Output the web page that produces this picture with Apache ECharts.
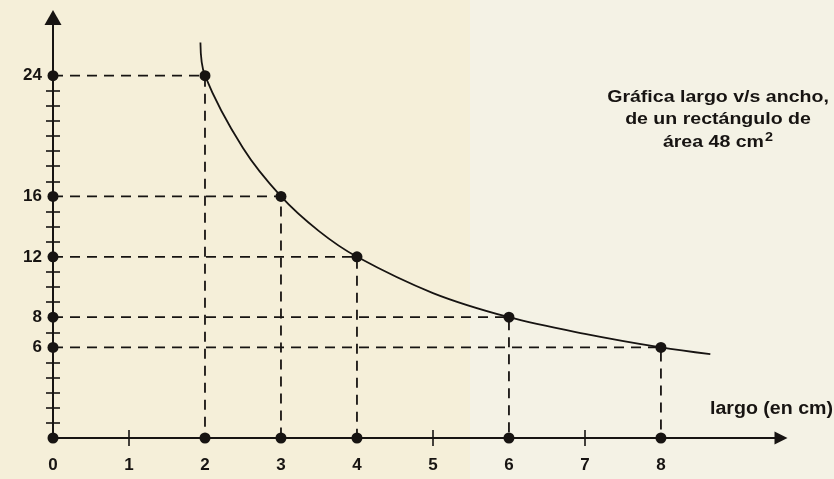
<!DOCTYPE html>
<html>
<head>
<meta charset="utf-8">
<script src="https://cdn.jsdelivr.net/npm/echarts@6/dist/echarts.min.js"></script>
<style>
html,body{margin:0;padding:0;background:#f5efd9;}
#c{width:834px;height:479px;}
</style>
</head>
<body>
<div id="c"></div>
<script>
// ---- data ----
const largo = [2, 3, 4, 6, 8];          // x of marked points (cm)
const ancho = [24, 16, 12, 8, 6];       // y of marked points (cm)
const curveX = [1.94, 2, 2.5, 3, 3.5, 4, 5, 6, 7, 8, 8.65];
const curveY = [26.2, 24, 19.2, 16, 13.7, 12, 9.6, 8, 6.9, 6, 5.55];
const xLabels = [0, 1, 2, 3, 4, 5, 6, 7, 8];
const xTicks = [1, 5, 7];
const yLabels = [6, 8, 12, 16, 24];
const yTicks = [1, 2, 3, 4, 5, 7, 9, 10, 11, 13, 14, 15, 17, 18, 19, 20, 21, 22, 23];
const titleLines = ['Gráfica largo v/s ancho,', 'de un rectángulo de'];
const titleLast = 'área 48 cm';
const xName = 'largo (en cm)';

const FONT = '"Liberation Sans", Arial, sans-serif';
const INK = '#171412';

const chart = echarts.init(document.getElementById('c'), null, {renderer: 'canvas'});

const XMAX = 9.58, YMAX = 27.85;

function xAx(inside, main) {
  return {
    type: 'value', min: 0, max: XMAX, position: 'bottom',
    splitLine: {show: false},
    axisLine: main ? {show: true, onZero: false, lineStyle: {color: INK, width: 2},
      symbol: ['none', 'triangle'], symbolSize: [13, 13]} : {show: false},
    axisTick: {show: true, inside: inside, length: 8, customValues: xTicks,
      lineStyle: {color: INK, width: 1.6}},
    axisLabel: main ? {show: true, customValues: xLabels, margin: 19,
      color: INK, fontFamily: FONT, fontSize: 17, fontWeight: 'bold'} : {show: false}
  };
}
function yAx(inside, main) {
  return {
    type: 'value', min: 0, max: YMAX, position: 'left',
    splitLine: {show: false},
    axisLine: main ? {show: true, onZero: false, lineStyle: {color: INK, width: 2},
      symbol: ['none', 'triangle'], symbolSize: [17, 15]} : {show: false},
    axisTick: {show: true, inside: inside, length: 7, customValues: yTicks,
      lineStyle: {color: INK, width: 1.6}},
    axisLabel: main ? {show: true, customValues: yLabels, margin: 11,
      color: INK, fontFamily: FONT, fontSize: 17, fontWeight: 'bold'} : {show: false}
  };
}

const series = [];
// dashed guide lines
for (let i = 0; i < largo.length; i++) {
  series.push({
    type: 'line', xAxisIndex: 0, yAxisIndex: 0, silent: true, symbol: 'none',
    data: [[0, ancho[i]], [largo[i], ancho[i]], [largo[i], 0]],
    lineStyle: {color: INK, width: 1.8, type: [10, 7]}, z: 2
  });
}
// curve
series.push({
  type: 'line', xAxisIndex: 0, yAxisIndex: 0, symbol: 'none', smooth: 0.35,
  data: curveX.map((x, i) => [x, curveY[i]]),
  lineStyle: {color: INK, width: 1.8}, z: 3
});
// dots
const dots = [[0, 0]];
largo.forEach((x, i) => { dots.push([x, ancho[i]]); dots.push([x, 0]); dots.push([0, ancho[i]]); });
series.push({
  type: 'scatter', xAxisIndex: 0, yAxisIndex: 0, symbol: 'circle', symbolSize: 11,
  data: dots, itemStyle: {color: INK, opacity: 1}, z: 5
});

chart.setOption({
  animation: false,
  backgroundColor: 'transparent',
  grid: {left: 53, right: 53, top: 17.5, bottom: 41},
  xAxis: [xAx(false, true), xAx(true, false)],
  yAxis: [yAx(false, true), yAx(true, false)],
  series: series,
  graphic: [
    {type: 'rect', x: 470, y: 0, z: -10, shape: {width: 364, height: 479},
      style: {fill: '#f4f2e5'}},
    {type: 'text', x: 718, y: 86, z: 10, scaleX: 1.15,
      style: {text: titleLines.join('\n') + '\n' + titleLast + '{s|2}',
        align: 'center', fill: INK, font: 'bold 17px ' + FONT, lineHeight: 22.5,
        rich: {s: {fontSize: 12.5, fontWeight: 'bold', fontFamily: FONT, fill: INK,
          verticalAlign: 'top', lineHeight: 22.5, padding: [0, 0, 0, 1]}}}},
    {type: 'text', x: 833, y: 400, z: 10, scaleX: 1.12,
      style: {text: xName, align: 'right', fill: INK, font: 'bold 17.5px ' + FONT}}
  ]
});
</script>
</body>
</html>
